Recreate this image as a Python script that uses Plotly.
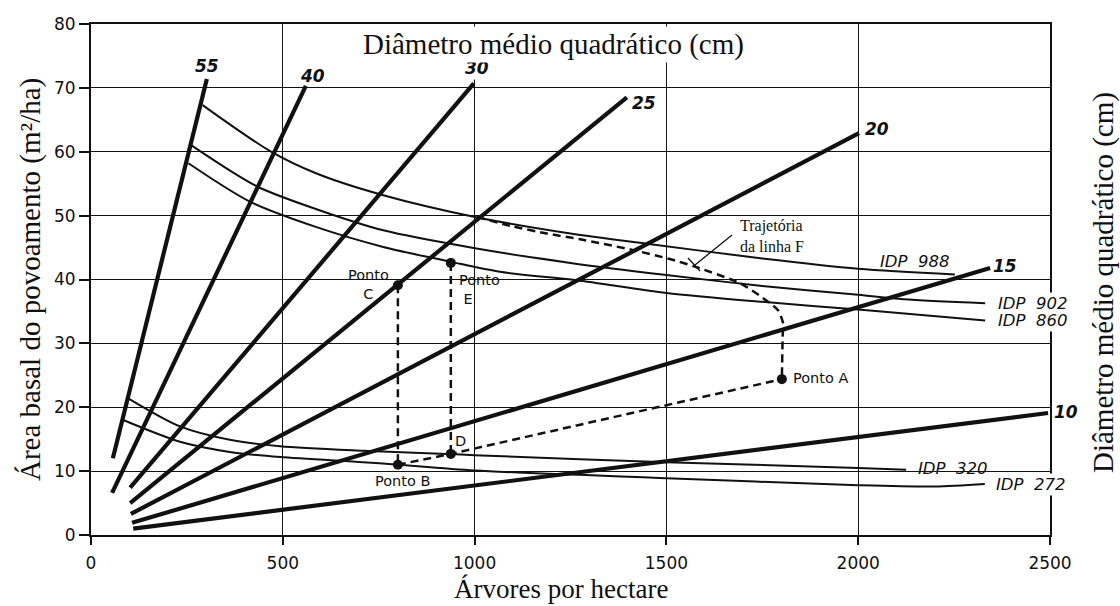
import plotly.graph_objects as go

# Quadratic mean diameter isolines (cm): start / end in (trees/ha, basal area m²/ha)
diam_labels = ["55", "40", "30", "25", "20", "15", "10"]
diam_n0 = [57, 55, 102, 102, 104, 107, 110]
diam_ba0 = [12.0, 6.6, 7.4, 5.0, 3.3, 1.9, 1.0]
diam_n1 = [302, 560, 998, 1397, 2002, 2344, 2495]
diam_ba1 = [71.4, 70.3, 70.7, 68.5, 62.9, 41.8, 19.1]

# Stand density index (IDP) curves
idp988_n = [291, 467, 588, 762, 1001, 1250, 1449, 1750, 2000, 2252]
idp988_ba = [67.3, 60.1, 56.6, 53.2, 49.8, 47.2, 45.6, 43.3, 41.7, 40.8]
idp902_n = [262, 432, 588, 762, 1001, 1250, 1500, 1750, 2000, 2118, 2331]
idp902_ba = [61.0, 54.6, 51.0, 47.7, 44.9, 42.6, 40.7, 39.0, 37.6, 36.9, 36.3]
idp860_n = [254, 414, 588, 762, 936, 1066, 1266, 1500, 1750, 2000, 2331]
idp860_ba = [58.2, 52.2, 48.2, 45.1, 42.8, 41.2, 39.9, 37.9, 36.5, 35.3, 33.6]
idp320_n = [97, 232, 362, 493, 709, 927, 1000, 1500, 2000, 2125]
idp320_ba = [21.4, 17.0, 14.9, 13.9, 13.2, 12.7, 12.5, 11.4, 10.5, 10.2]
idp272_n = [84, 232, 362, 493, 709, 801, 1000, 1500, 2000, 2200, 2330]
idp272_ba = [18.0, 14.6, 13.0, 12.2, 11.4, 11.0, 10.1, 8.9, 7.8, 7.6, 8.0]
idp_curves = [
    ("IDP 988", idp988_n, idp988_ba),
    ("IDP 902", idp902_n, idp902_ba),
    ("IDP 860", idp860_n, idp860_ba),
    ("IDP 320", idp320_n, idp320_ba),
    ("IDP 272", idp272_n, idp272_ba),
]

# Trajectory of line F
traj_n = [1006, 1100, 1188, 1275, 1414, 1509, 1570, 1693, 1752, 1791, 1804, 1803, 1801]
traj_ba = [49.8, 48.3, 47.2, 46.3, 44.6, 43.2, 42.1, 39.4, 37.1, 35.2, 33.2, 31.0, 24.4]

# Named points
pt_names = ["A", "B", "C", "D", "E"]
pt_n = [1801, 800, 800, 938, 938]
pt_ba = [24.4, 11.0, 39.1, 12.7, 42.6]
P = {k: (n, b) for k, n, b in zip(pt_names, pt_n, pt_ba)}

x_ticks = [0, 500, 1000, 1500, 2000, 2500]
y_ticks = [0, 10, 20, 30, 40, 50, 60, 70, 80]

W, H = 1120, 606
L, R, T, B = 91, 1050, 24, 535

def paper(xp, yp):
    return (xp - L) / (R - L), (B - yp) / (B - T)

INK = "#111111"
SANS = "DejaVu Sans"
SERIF = "Liberation Serif"

fig = go.Figure()

# density index curves
for name, n, ba in idp_curves:
    fig.add_trace(go.Scatter(x=n, y=ba, mode="lines", name=name,
                             line=dict(color=INK, width=2, shape="spline", smoothing=0.8),
                             hoverinfo="skip"))

# diameter isolines
for lab, n0, b0, n1, b1 in zip(diam_labels, diam_n0, diam_ba0, diam_n1, diam_ba1):
    fig.add_trace(go.Scatter(x=[n0, n1], y=[b0, b1], mode="lines", name=lab + " cm",
                             line=dict(color=INK, width=4.2), hoverinfo="skip"))

dash = "8px,5px"
# trajectory F
fig.add_trace(go.Scatter(x=traj_n, y=traj_ba, mode="lines",
                         line=dict(color=INK, width=2.5, dash=dash, shape="spline", smoothing=0.6),
                         hoverinfo="skip"))
# thinning verticals and the B-D-A path
for seq in (["C", "B"], ["E", "D"], ["B", "D", "A"]):
    fig.add_trace(go.Scatter(x=[P[k][0] for k in seq], y=[P[k][1] for k in seq],
                             mode="lines", line=dict(color=INK, width=2.5, dash=dash),
                             hoverinfo="skip"))
fig.add_trace(go.Scatter(x=pt_n, y=pt_ba, mode="markers",
                         marker=dict(color=INK, size=10), hoverinfo="skip"))

shapes = []
# white patches that break the grid behind labels
for (x0, y0, x1, y1) in [(343, 268, 396, 301), (443, 257, 510, 313),
                          (367, 466, 505, 476), (788, 365, 864, 389)]:
    px0, py0 = paper(x0, y1)
    px1, py1 = paper(x1, y0)
    shapes.append(dict(type="rect", xref="paper", yref="paper", x0=px0, x1=px1,
                       y0=py0, y1=py1, fillcolor="white", line=dict(width=0),
                       layer="between"))
# leader for the trajectory note
for (a, b) in [((695, 265), (732, 235)), ((688, 258), (700, 271))]:
    ax0, ay0 = paper(*a)
    ax1, ay1 = paper(*b)
    shapes.append(dict(type="line", xref="paper", yref="paper", x0=ax0, y0=ay0,
                       x1=ax1, y1=ay1, line=dict(color=INK, width=1.3)))

annotations = []

def note(text, xp, yp, size, family=SANS, xanchor="center", bg=None, align="center", angle=0):
    xx, yy = paper(xp, yp)
    d = dict(text=text, x=xx, y=yy, xref="paper", yref="paper", showarrow=False,
             xanchor=xanchor, yanchor="middle", align=align, textangle=angle,
             font=dict(family=family, size=size, color=INK))
    if bg:
        d.update(bgcolor=bg)
    annotations.append(d)

diam_pos = [(207, 66), (312, 76), (477, 68), (644, 103), (877, 129), (1005, 266), (1066, 412)]
for lab, (xp, yp) in zip(diam_labels, diam_pos):
    note("<b><i>" + lab + "</i></b>", xp, yp, 17, bg="white" if lab in ("30", "10") else None)

idp_pos = [(915, 261), (1033, 303), (1033, 320), (953, 468), (1031, 484)]
for (name, _, _), (xp, yp) in zip(idp_curves, idp_pos):
    txt = "<i>" + name.replace(" ", "&nbsp;&nbsp;") + "</i>"
    note(txt, xp, yp, 16.5, bg="white" if name in ("IDP 902", "IDP 860", "IDP 272") else None)

note("Ponto<br>C", 368, 284, 14.5)
note("Ponto<br>&nbsp;E", 457, 289, 14.5, xanchor="left", align="left")
note("Ponto A", 791, 378, 14.5, xanchor="left")
note("Ponto B", 402, 481, 14.5)
note("D", 460, 441, 14.5)
note("Trajetória<br>da linha F", 738, 236, 16, family=SERIF, xanchor="left", align="left")

# titles
note("Diâmetro médio quadrático (cm)", 553, 44, 29, family=SERIF, bg="white")
note("Diâmetro médio quadrático (cm)", 1103, 283, 29, family=SERIF, angle=-90)
note("Área basal do povoamento (m²/ha)", 30, 280, 29, family=SERIF, angle=-90)
note("Árvores por hectare", 561, 589, 27, family=SERIF)

axis_common = dict(showline=True, linecolor=INK, linewidth=2, mirror=True,
                   ticks="outside", tickcolor=INK, tickwidth=2, automargin=False,
                   showgrid=True, gridcolor=INK, gridwidth=1.3, zeroline=False,
                   tickfont=dict(family=SANS, size=17, color=INK))

fig.update_layout(
    width=W, height=H,
    margin=dict(l=L, r=W - R, t=T, b=H - B),
    paper_bgcolor="white", plot_bgcolor="white",
    showlegend=False,
    shapes=shapes, annotations=annotations,
    xaxis=dict(range=[0, 2500], tickvals=x_ticks, ticklen=8, ticklabelstandoff=4,
               **axis_common),
    yaxis=dict(range=[0, 80], tickvals=y_ticks, ticklen=10, **axis_common),
)

fig.write_html("out.html")
